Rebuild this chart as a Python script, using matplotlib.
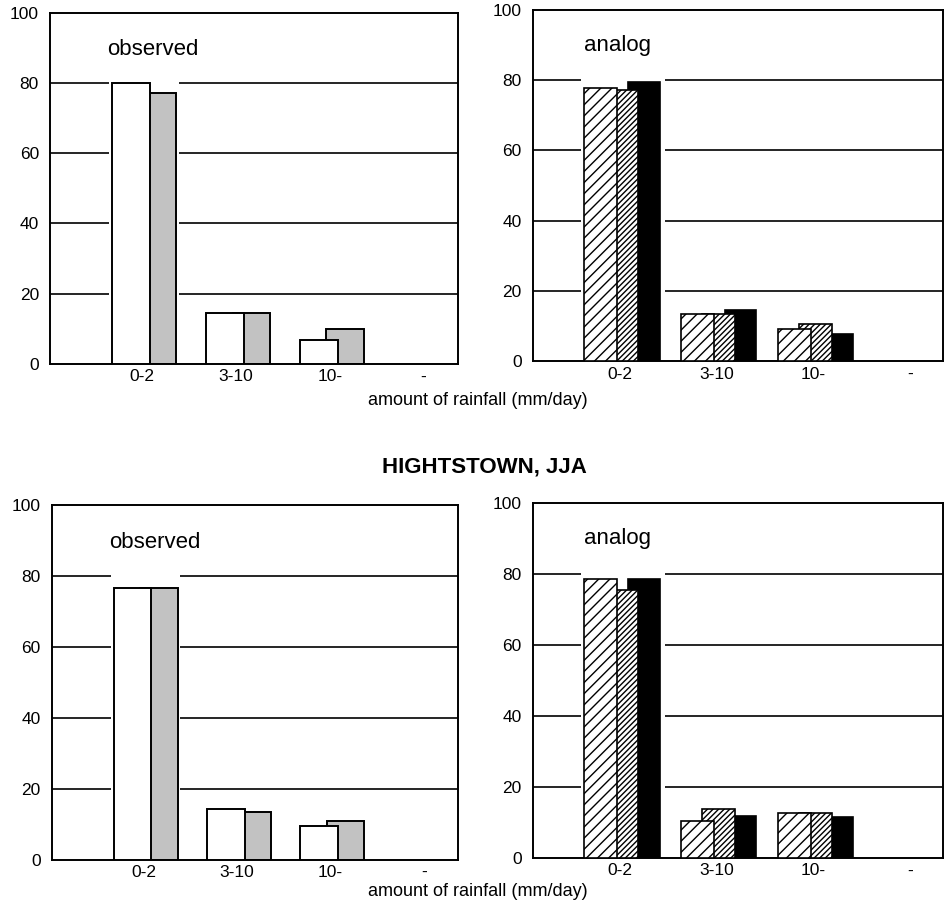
import numpy as np
import matplotlib
matplotlib.use("Agg")
import matplotlib.pyplot as plt

plt.rcParams['font.family'] = ['Liberation Sans', 'DejaVu Sans']
plt.rcParams['hatch.linewidth'] = 1.0

# rainfall classes (mm/day)
categories = ["0-2", "3-10", "10-", "-"]

# top row (first station)
top_obs_white = [80, 14.5, 6.8]
top_obs_gray = [77.2, 14.5, 10]
top_an_1 = [77.9, 13.3, 9.0]
top_an_2 = [77.2, 13.3, 10.7]
top_an_3 = [79.6, 14.5, 7.6]

# bottom row (HIGHTSTOWN, JJA)
bot_obs_white = [76.5, 14.4, 9.4]
bot_obs_gray = [76.5, 13.6, 10.8]
bot_an_1 = [78.6, 10.4, 12.7]
bot_an_2 = [75.5, 13.9, 12.7]
bot_an_3 = [78.6, 11.9, 11.4]

x = np.arange(3)

fig = plt.figure(figsize=(9.45, 9.05), dpi=100)

def style_axes(ax, xlim, gap):
    ax.set_xlim(*xlim)
    ax.set_ylim(0, 100)
    ax.set_yticks([0, 20, 40, 60, 80, 100])
    ax.set_xticks(range(4))
    ax.set_xticklabels(categories)
    ax.set_xticks([3], minor=True)
    ax.tick_params(axis='both', which='major', length=0, labelsize=12.5)
    ax.tick_params(axis='y', pad=8)
    ax.tick_params(axis='x', pad=4)
    ax.tick_params(axis='x', which='minor', direction='in', length=5, width=1)
    for s in ax.spines.values():
        s.set_linewidth(1.4)
    for yv in [20, 40, 60, 80]:
        ax.axhline(yv, color='black', lw=1.2, zorder=0)
    # white break in gridlines around the first group
    ax.axvspan(gap[0], gap[1], color='white', zorder=1, lw=0)


def observed_panel(ax, white, gray, label):
    style_axes(ax, (-0.98, 3.37), (-0.35, 0.39))
    ax.bar(x - 0.035, gray, width=0.40, align='edge', color='#c2c2c2',
           edgecolor='black', lw=1.4, zorder=2)
    ax.bar(x - 0.32, white, width=0.405, align='edge', color='white',
           edgecolor='black', lw=1.4, zorder=3)
    ax.text(0.14, 0.895, label, transform=ax.transAxes, fontsize=16,
            va='center', ha='left')


def analog_panel(ax, a1, a2, a3, label):
    style_axes(ax, (-0.90, 3.34), (-0.40, 0.46))
    ax.bar(x + 0.08, a3, width=0.33, align='edge', color='black',
           edgecolor='black', lw=1.2, zorder=2)
    ax.bar(x - 0.15, a2, width=0.34, align='edge', color='white',
           edgecolor='black', hatch='//////', lw=1.2, zorder=3)
    ax.bar(x - 0.37, a1, width=0.34, align='edge', color='white',
           edgecolor='black', hatch='///', lw=1.2, zorder=4)
    ax.text(0.125, 0.90, label, transform=ax.transAxes, fontsize=16,
            va='center', ha='left')


ax1 = fig.add_axes([0.053, 0.598, 0.432, 0.388])
observed_panel(ax1, top_obs_white, top_obs_gray, "observed")

ax2 = fig.add_axes([0.564, 0.601, 0.434, 0.388])
analog_panel(ax2, top_an_1, top_an_2, top_an_3, "analog")

ax3 = fig.add_axes([0.055, 0.050, 0.430, 0.392])
observed_panel(ax3, bot_obs_white, bot_obs_gray, "observed")

ax4 = fig.add_axes([0.564, 0.052, 0.434, 0.392])
analog_panel(ax4, bot_an_1, bot_an_2, bot_an_3, "analog")

fig.text(0.506, 1 - 400 / 905, "amount of rainfall (mm/day)", ha='center',
         va='center', fontsize=13)
fig.text(0.506, 1 - 891 / 905, "amount of rainfall (mm/day)", ha='center',
         va='center', fontsize=13)
fig.text(0.513, 1 - 467 / 905, "HIGHTSTOWN, JJA", ha='center', va='center',
         fontsize=16, fontweight='bold')

fig.savefig("out.png", dpi=100)
